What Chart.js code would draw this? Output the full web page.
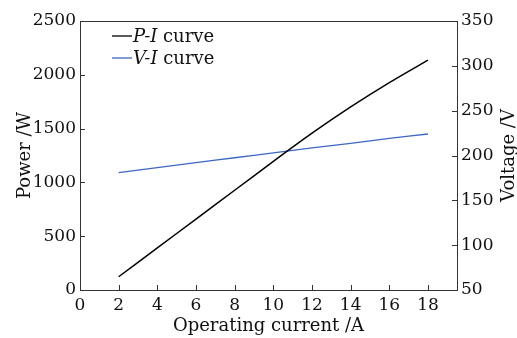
<!DOCTYPE html>
<html>
<head>
<meta charset="utf-8">
<script src="https://cdn.jsdelivr.net/npm/chart.js@4"></script>
<style>
  html, body { margin: 0; padding: 0; background: #fff; }
  #wrap { width: 517px; height: 338px; }
</style>
</head>
<body>
<div id="wrap"><canvas id="chart"></canvas></div>
<script>
// --------------------
// Data
// --------------------
const currents = [2, 4, 6, 8, 10, 12, 14, 16, 18];
const powerValues = [123, 391, 659, 927, 1195, 1457, 1701, 1927, 2136];
const voltageValues = [181, 186.5, 192, 197.5, 203, 208.5, 213.5, 219, 224];
const xTicks = [0, 2, 4, 6, 8, 10, 12, 14, 16, 18];
const legendLabels = [['P-I', ' curve'], ['V-I', ' curve']];

const FONT = 'DejaVu Serif';
const AXIS_COLOR = '#333';
const COLORS = ['#000000', '#3d66c7'];

// inside ticks, frame, axis titles and legend
const decorations = {
    id: 'decorations',
    afterDraw(chart) {
        const { ctx, chartArea: a, scales } = chart;
        ctx.save();
        ctx.strokeStyle = AXIS_COLOR;
        ctx.lineWidth = 1;
        ctx.beginPath();
        ctx.moveTo(a.left, a.top + 0.5);
        ctx.lineTo(a.right, a.top + 0.5);
        scales.x.ticks.forEach(t => {
            const px = Math.round(scales.x.getPixelForValue(t.value)) + 0.5;
            ctx.moveTo(px, a.bottom);
            ctx.lineTo(px, a.bottom - 5);
        });
        scales.y.ticks.forEach(t => {
            const py = Math.round(scales.y.getPixelForValue(t.value)) + 0.5;
            ctx.moveTo(a.left, py);
            ctx.lineTo(a.left + 5, py);
        });
        scales.y1.ticks.forEach(t => {
            const py = Math.round(scales.y1.getPixelForValue(t.value)) + 0.5;
            ctx.moveTo(a.right, py);
            ctx.lineTo(a.right - 5, py);
        });
        ctx.stroke();

        // axis titles
        ctx.fillStyle = '#111';
        ctx.font = '18px "' + FONT + '"';
        ctx.textAlign = 'center';
        ctx.textBaseline = 'alphabetic';
        ctx.fillText('Operating current /A', (a.left + a.right) / 2, 331);
        const midY = (a.top + a.bottom) / 2;
        ctx.save();
        ctx.translate(30, midY);
        ctx.rotate(-Math.PI / 2);
        ctx.fillText('Power /W', 0, 0);
        ctx.restore();
        ctx.save();
        ctx.translate(514, midY);
        ctx.rotate(-Math.PI / 2);
        ctx.fillText('Voltage /V', 0, 0);
        ctx.restore();

        // legend
        ctx.textAlign = 'left';
        legendLabels.forEach((parts, i) => {
            const y = 36 + i * 22;
            ctx.strokeStyle = COLORS[i];
            ctx.lineWidth = 1.3;
            ctx.beginPath();
            ctx.moveTo(112, y);
            ctx.lineTo(132, y);
            ctx.stroke();
            ctx.fillStyle = '#111';
            ctx.font = 'italic 18px "' + FONT + '"';
            ctx.fillText(parts[0], 133, y + 6);
            const w = ctx.measureText(parts[0]).width;
            ctx.font = '18px "' + FONT + '"';
            ctx.fillText(parts[1], 133 + w, y + 6);
        });
        ctx.restore();
    }
};

const tickFont = { family: FONT, size: 17 };
const plainNumber = (v) => String(v);

new Chart(document.getElementById('chart'), {
    type: 'line',
    data: {
        datasets: [{
            label: 'P-I curve',
            data: currents.map((c, i) => ({ x: c, y: powerValues[i] })),
            borderColor: COLORS[0],
            borderWidth: 1.5,
            pointRadius: 0,
            tension: 0.2,
            yAxisID: 'y',
        }, {
            label: 'V-I curve',
            data: currents.map((c, i) => ({ x: c, y: voltageValues[i] })),
            borderColor: COLORS[1],
            borderWidth: 1.3,
            pointRadius: 0,
            tension: 0.2,
            yAxisID: 'y1',
        }]
    },
    options: {
        responsive: true,
        maintainAspectRatio: false,
        animation: false,
        layout: { padding: { top: 21, left: 0, right: 0, bottom: 0 } },
        plugins: {
            legend: { display: false },
            tooltip: { enabled: false },
        },
        scales: {
            x: {
                type: 'linear',
                min: 0,
                max: 19.5,
                afterBuildTicks: (s) => { s.ticks = xTicks.map(v => ({ value: v })); },
                afterFit: (s) => { s.height = 48; },
                grid: { display: false, drawTicks: false },
                border: { display: true, color: AXIS_COLOR, width: 1 },
                ticks: { font: tickFont, color: '#111', padding: 5, maxRotation: 0, callback: plainNumber },
            },
            y: {
                position: 'left',
                min: 0,
                max: 2500,
                ticks: { stepSize: 500, font: tickFont, color: '#111', padding: 4, callback: plainNumber },
                afterFit: (s) => { s.width = 80; },
                grid: { display: false, drawTicks: false },
                border: { display: true, color: AXIS_COLOR, width: 1 },
            },
            y1: {
                position: 'right',
                min: 50,
                max: 350,
                ticks: { stepSize: 50, font: tickFont, color: '#111', padding: 4, callback: plainNumber },
                afterFit: (s) => { s.width = 60; },
                grid: { display: false, drawTicks: false },
                border: { display: true, color: AXIS_COLOR, width: 1 },
            }
        }
    },
    plugins: [decorations]
});
</script>
</body>
</html>
